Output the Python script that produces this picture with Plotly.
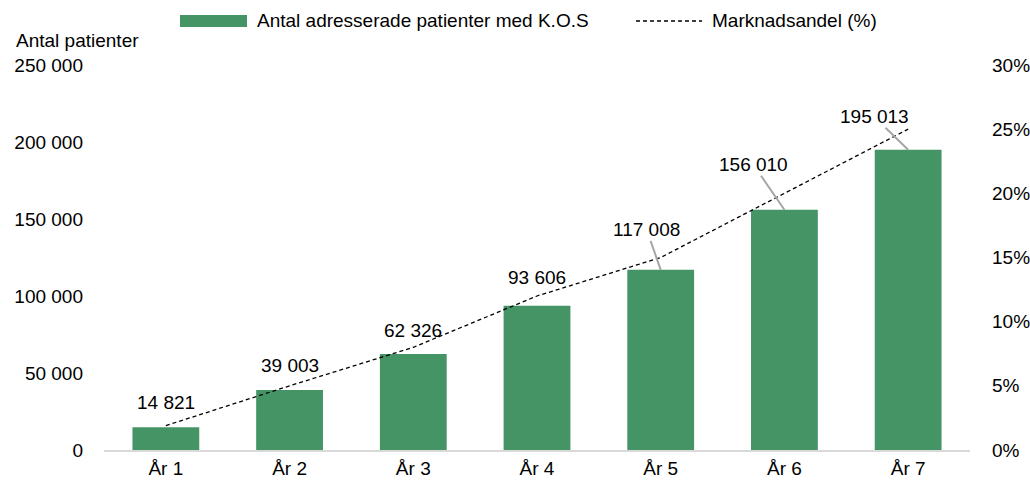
import plotly.graph_objects as go

categories = ["År 1", "År 2", "År 3", "År 4", "År 5", "År 6", "År 7"]
patients = [14821, 39003, 62326, 93606, 117008, 156010, 195013]
market_share = [1.9, 5.0, 8.0, 12.0, 15.0, 20.0, 25.0]
left_ticks = [0, 50000, 100000, 150000, 200000, 250000]
right_ticks = [0, 5, 10, 15, 20, 25, 30]
right_tick_labels = ["0%", "5%", "10%", "15%", "20%", "25%", "30%"]

bar_name = "Antal adresserade patienter med K.O.S"
line_name = "Marknadsandel (%)"
left_title = "Antal patienter"

# label offsets (pixels) and whether a leader line is shown
label_dx = [0, 0, 0, 0, -14, -31, -34]
label_dy = [-25, -24, -24, -28, -40, -45, -33]
label_leader = [False, False, False, False, True, True, True]

GREEN = "#459466"
FONT = "Liberation Sans, Arial, sans-serif"
FS = 19

L, R, T, B = 104, 60, 65, 35
W, H = 1030, 485
PW, PH = W - L - R, H - T - B


def px(xp):
    return (xp - L) / PW


def py(yp):
    return (H - B - yp) / PH


fig = go.Figure()
fig.add_trace(go.Bar(x=categories, y=patients, marker=dict(color=GREEN, line=dict(width=0)),
                     width=0.54, name=bar_name, showlegend=False))
fig.add_trace(go.Scatter(x=categories, y=market_share, yaxis="y2", mode="lines",
                         line=dict(color="black", width=1.3, dash="4px,3px"),
                         name=line_name, showlegend=False))

annotations = []
for c, v, dx, dy, ld in zip(categories, patients, label_dx, label_dy, label_leader):
    annotations.append(dict(
        x=c, y=v, xref="x", yref="y", text=f"{v:,}".replace(",", " "),
        showarrow=True, arrowhead=0, arrowwidth=2,
        arrowcolor="#a6a6a6" if ld else "rgba(0,0,0,0)",
        ax=dx, ay=dy, font=dict(size=FS, color="black", family=FONT),
        standoff=0, borderpad=0,
    ))

annotations.append(dict(x=px(14), y=py(40), xref="paper", yref="paper", xanchor="left",
                        yanchor="middle", text=left_title, showarrow=False,
                        font=dict(size=FS, color="black", family=FONT)))
annotations.append(dict(x=px(255), y=py(21), xref="paper", yref="paper", xanchor="left",
                        yanchor="middle", text=bar_name, showarrow=False,
                        font=dict(size=FS, color="black", family=FONT)))
annotations.append(dict(x=px(710), y=py(21), xref="paper", yref="paper", xanchor="left",
                        yanchor="middle", text=line_name, showarrow=False,
                        font=dict(size=FS, color="black", family=FONT)))

shapes = [
    dict(type="rect", xref="paper", yref="paper", x0=px(180), x1=px(247), y0=py(27), y1=py(15),
         fillcolor=GREEN, line=dict(width=0)),
    dict(type="line", xref="paper", yref="paper", x0=px(636), x1=px(702), y0=py(21), y1=py(21),
         line=dict(color="black", width=1.3, dash="4px,3px")),
]

fig.update_layout(
    width=W, height=H,
    margin=dict(l=L, r=R, t=T, b=B, autoexpand=False),
    paper_bgcolor="white", plot_bgcolor="white",
    separators=", ",
    font=dict(family=FONT, size=FS, color="black"),
    xaxis=dict(showline=True, linecolor="#d9d9d9", linewidth=2, ticks="", showgrid=False,
               tickfont=dict(size=FS), zeroline=False, automargin=False),
    yaxis=dict(range=[0, 250000], tickvals=left_ticks, tickformat=",d", showgrid=False,
               zeroline=False, showline=False, ticks="", ticklabelstandoff=20,
               tickfont=dict(size=FS), automargin=False),
    yaxis2=dict(range=[0, 30], tickvals=right_ticks, ticktext=right_tick_labels,
                overlaying="y", side="right", showgrid=False, zeroline=False,
                showline=False, ticks="", ticklabelstandoff=21,
                tickfont=dict(size=FS), automargin=False),
    annotations=annotations,
    shapes=shapes,
    showlegend=False,
)

fig.write_html("out.html")
